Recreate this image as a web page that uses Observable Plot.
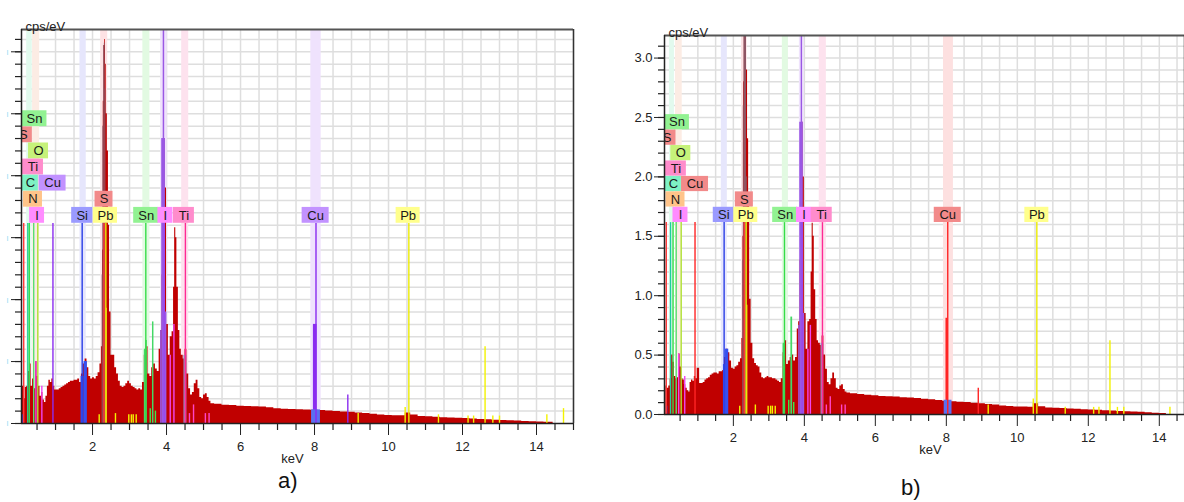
<!DOCTYPE html>
<html><head><meta charset="utf-8">
<script src="https://cdn.jsdelivr.net/npm/d3@7"></script>
<script src="https://cdn.jsdelivr.net/npm/@observablehq/plot@0.6"></script>
<style>
html,body{margin:0;padding:0;background:#fff}
body{width:1184px;height:502px;position:relative;overflow:hidden}
#pa{position:absolute;left:0;top:0}
#pb{position:absolute;left:600px;top:0}
.cap{position:absolute;font-family:"Liberation Sans",Arial,sans-serif;font-size:22px;line-height:1;color:#111}
</style></head><body>
<div id="pa"></div><div id="pb"></div>
<div class="cap" style="left:278px;top:470px">a)</div>
<div class="cap" style="left:901px;top:477px">b)</div>
<script>
// ---------- DATA ----------
// energy grid (keV) shared by both spectra
const keV = [0.10,0.14,0.18,0.22,0.26,0.30,0.34,0.38,0.42,0.46,0.50,0.54,0.58,0.62,0.66,0.70,0.74,0.78,0.82,0.86,0.90,0.94,0.98,
1.05,1.10,1.15,1.20,1.25,1.30,1.35,1.40,1.45,1.50,1.55,1.60,1.65,1.70,1.75,1.80,1.85,1.90,1.95,2.00,2.05,2.10,2.15,2.20,
2.24,2.27,2.29,2.31,2.33,2.35,2.37,2.40,2.43,2.46,
2.50,2.55,2.60,2.65,2.70,2.75,2.80,2.85,2.90,2.95,3.00,3.05,3.10,3.15,3.20,3.25,3.30,3.35,3.40,3.45,3.50,3.55,3.60,3.65,3.70,3.75,3.80,
3.84,3.88,3.92,3.96,4.00,
4.05,4.10,4.15,
4.19,4.22,4.25,4.28,4.32,4.36,4.40,
4.45,4.50,4.55,4.60,4.65,4.70,4.75,4.80,4.85,4.90,4.95,5.00,5.05,5.10,5.15,5.20,
5.3,5.5,5.7,5.9,6.1,6.3,6.5,6.7,6.9,7.1,7.3,7.5,7.7,7.9,8.1,8.3,8.5,8.7,8.9,9.1,9.3,9.5,9.7,9.9,10.1,10.3,10.45,10.6,10.8,11.0,11.2,11.4,11.6,11.8,12.0,12.2,12.4,12.6,12.8,13.0,13.2,13.4,13.6,13.8,14.0,14.2,14.45];

// spectrum a) cps/eV
const cpsA = [0.30,0.20,0.29,0.30,0.42,0.48,0.30,0.36,0.28,0.50,0.38,0.30,0.22,0.25,0.19,0.17,0.22,0.30,0.35,0.33,0.36,0.30,0.27,
0.27,0.28,0.29,0.30,0.31,0.32,0.33,0.34,0.34,0.35,0.35,0.36,0.33,0.40,0.48,0.52,0.45,0.38,0.36,0.37,0.36,0.38,0.41,0.48,
0.62,1.40,2.60,3.05,3.10,2.90,2.50,2.20,1.60,0.90,
0.55,0.55,0.45,0.40,0.34,0.30,0.29,0.30,0.32,0.34,0.32,0.30,0.29,0.28,0.27,0.28,0.27,0.33,0.55,0.62,0.40,0.38,0.45,0.48,0.44,0.42,0.60,
0.75,1.20,2.30,1.90,0.80,
0.55,0.70,0.74,
1.10,1.58,1.50,1.10,0.75,0.60,0.55,
0.52,0.60,0.40,0.28,0.23,0.25,0.32,0.35,0.28,0.21,0.20,0.23,0.24,0.21,0.18,0.16,
0.155,0.148,0.145,0.140,0.138,0.136,0.133,0.128,0.120,0.115,0.113,0.110,0.108,0.106,0.104,0.100,0.097,0.093,0.090,0.085,0.080,0.074,0.068,0.065,0.063,0.062,0.085,0.068,0.057,0.055,0.050,0.047,0.044,0.042,0.040,0.036,0.033,0.030,0.027,0.025,0.022,0.020,0.017,0.014,0.012,0.010,0.000];

// spectrum b) cps/eV
const cpsB = [0.24,0.22,0.24,0.30,0.50,0.44,0.32,0.30,0.31,0.51,0.40,0.30,0.29,0.25,0.22,0.20,0.19,0.27,0.29,0.28,0.32,0.30,0.39,
0.26,0.26,0.27,0.29,0.30,0.31,0.33,0.34,0.35,0.35,0.34,0.36,0.36,0.37,0.48,0.55,0.52,0.45,0.39,0.38,0.40,0.41,0.44,0.47,
0.64,1.50,2.80,3.30,3.30,3.30,2.90,2.32,1.80,0.97,
0.60,0.47,0.43,0.41,0.40,0.35,0.31,0.30,0.31,0.32,0.31,0.31,0.30,0.30,0.29,0.28,0.27,0.30,0.52,0.62,0.42,0.45,0.48,0.50,0.45,0.48,0.72,
0.78,1.30,2.46,2.00,0.85,
0.55,0.78,0.80,
1.20,1.61,1.50,1.05,0.80,0.62,0.60,
0.58,0.66,0.50,0.38,0.27,0.25,0.30,0.35,0.30,0.22,0.21,0.24,0.25,0.21,0.19,0.18,
0.175,0.168,0.163,0.158,0.152,0.150,0.148,0.142,0.138,0.134,0.128,0.124,0.118,0.112,0.108,0.104,0.100,0.095,0.090,0.085,0.080,0.072,0.068,0.064,0.063,0.062,0.090,0.065,0.055,0.052,0.050,0.047,0.044,0.041,0.038,0.035,0.032,0.030,0.026,0.024,0.021,0.018,0.015,0.010,0.008,0.000,0.000];

// element labels (stack level 0 = lowest row)
const labelText  = ["Sn","S","O","Ti","C","Cu","N","I","Si","S","Pb","Sn","I","Ti","Cu","Pb"];
const labelLevel = [6,5,4,3,2,2,1,0,0,1,0,0,0,0,0,0];
const labelKeVA  = [0.43,0.13,0.54,0.39,0.32,0.92,0.39,0.50,1.72,2.31,2.35,3.45,3.97,4.47,8.03,10.53];
const labelKeVB  = [0.41,0.13,0.52,0.38,0.31,0.92,0.37,0.51,1.73,2.31,2.35,3.46,3.99,4.49,8.04,10.55];

// element marker lines (from 0 up to the label row)
const lineElem = ["S","C","Sn","N","O","Cu","Si","S","Pb","Sn","I","Ti","Cu","Pb"];
const lineKeVA = [0.14,0.25,0.29,0.41,0.52,0.93,1.72,2.31,2.36,3.44,3.94,4.51,8.04,10.55];
const lineKeVB = [0.11,0.23,0.30,0.39,0.53,0.92,1.74,2.31,2.36,3.44,3.94,4.51,8.04,10.55];

// shaded element windows (keV)
const bandElem = ["C","O","Si","S","Sn","I","Ti","Cu"];
const bandLoA = [0.22,0.38,1.66,2.22,3.36,3.84,4.41,7.90];
const bandHiA = [0.37,0.57,1.83,2.41,3.55,4.02,4.60,8.18];
const bandLoB = [0.20,0.37,1.66,2.23,3.38,3.86,4.42,7.92];
const bandHiB = [0.34,0.56,1.83,2.39,3.55,4.00,4.62,8.20];

// fitted element contributions (keV window and height, cps/eV)
const ovElemA = ["Si","Si","S","S","S","S","S","S","Pb","Sn","Sn","Sn","I","I","I","I","Ix","Cu","Cub"];
const ovLoA   = [1.69,1.77,2.26,2.28,2.30,2.32,2.34,2.36,2.37,3.40,3.44,3.62,3.84,3.87,3.91,3.97,4.47,7.97,7.92];
const ovHiA   = [1.77,1.86,2.28,2.30,2.32,2.34,2.36,2.38,2.40,3.44,3.48,3.66,3.87,3.97,3.95,4.01,4.55,8.07,8.16];
const ovTopA  = [0.38,0.50,1.20,2.40,3.05,3.07,2.70,1.60,0.93,0.60,0.67,0.82,0.75,2.30,3.30,0.90,0.55,0.80,0.11];
const ovElemB = ["Si","Si","S","S","S","S","Pb","Sn","Sn","I","I","I","I","Ix","Cu","Cub"];
const ovLoB   = [1.72,1.78,2.26,2.28,2.30,2.37,2.37,3.40,3.62,3.84,3.87,3.91,3.97,4.47,7.99,7.94];
const ovHiB   = [1.78,1.87,2.28,2.30,2.37,2.39,2.41,3.46,3.67,3.87,3.97,3.95,4.01,4.55,8.06,8.16];
const ovTopB  = [0.42,0.55,1.30,2.60,3.30,2.00,0.92,0.60,0.82,0.75,2.46,3.30,0.85,0.60,0.81,0.12];

// minor lines (element, keV, height cps/eV)
const minElemA = ["Si","I","I","Pb","Pb","Pb","Pb","Pb","Pb","Sn","Sn","I","I","Ti","Ti","Ti","Ti","Cu","Pb","Pb","Pb","Pb","Pb","Pb","Pb","Pb","Pb","Pb"];
const minKeVA  = [0.12,0.47,0.63,2.18,2.62,2.98,3.05,3.10,3.18,3.56,3.70,4.10,4.20,4.62,4.73,5.05,5.15,8.90,9.18,10.45,11.35,12.15,12.30,12.61,12.82,13.00,14.28,14.73];
const minTopA  = [0.07,0.50,0.30,0.07,0.08,0.07,0.07,0.07,0.07,0.12,0.10,0.55,0.80,0.08,0.15,0.08,0.08,0.23,0.08,0.13,0.07,0.06,0.06,0.62,0.06,0.06,0.07,0.12];
const minElemB = ["Si","I","I","Pb","Pb","Pb","Pb","Pb","Pb","Sn","Sn","I","I","Ti","Ti","Ti","Ti","Cu","Pb","Pb","Pb","Pb","Pb","Pb","Pb","Pb","Pb"];
const minKeVB  = [0.12,0.46,0.63,2.18,2.62,2.98,3.05,3.10,3.18,3.56,3.70,4.10,4.17,4.62,4.73,5.05,5.15,8.90,9.18,10.45,11.35,12.15,12.30,12.61,12.82,13.00,14.30];
const minTopB  = [0.07,0.51,0.32,0.07,0.08,0.07,0.07,0.07,0.07,0.12,0.10,0.55,0.75,0.08,0.15,0.08,0.08,0.22,0.08,0.13,0.06,0.06,0.06,0.62,0.06,0.06,0.06];

const xTickLabels = [2,4,6,8,10,12,14];
const yTickLabels = [0,0.5,1,1.5,2,2.5,3];

// ---------- STYLE ----------
const FONT = "Liberation Sans, Arial, sans-serif";
const lineColor = {S:"#ff3838", C:"#1fcf9c", Sn:"#36dd48", N:"#58e070", O:"#aee232", I:"#9a48ee", Ti:"#ff2a94", Si:"#2b3fe6", Pb:"#ecec00"};
const minorColor = {S:"#ff3838", Sn:"#3ee84a", I:"#f044f0", Ti:"#ff44c8", Si:"#2b3fe6", Pb:"#f2f200"};
const ovColor = {Si:"#3450f2", S:"#8e5664", Pb:"#f0d820", Sn:"#44d866", I:"#9a58e4", Ix:"#9c82b8", Cub:"#5a70f0"};
const labelFill = {Sn:"#92f292", S:"#f28a8a", O:"#c6f27a", Ti:"#ff8ccc", C:"#7ef2c4", N:"#ffc48a", I:"#ff8cff", Si:"#9a9aff", Pb:"#ffff8c"};
const bandFill = {C:"#e2faee", O:"#fcece4", Si:"#e6e6fc", S:"#fde2e4", Sn:"#e2fae2", I:"#efe2fc", Ti:"#fde2ee"};
const boxW = {Sn:25, S:18, O:20, Ti:21, C:16, Cu:27, N:19, I:15, Si:21, Pb:24};
const rowY = lvl => 1.68 + 0.13 * lvl;

function makePanel(o) {
  const {width, height, mL, mR, mT, mB, xDom, yMax, cps, lblKeV, lnKeV, bLo, bHi,
         ovE, ovL, ovH, ovT, mnE, mnK, mnT, cu, showY, keVdx} = o;
  const kx = (width - mL - mR) / (xDom[1] - xDom[0]);
  const ky = (height - mT - mB) / yMax;
  const spec = keV.map((e, i) => ({e, v: cps[i]}));
  const lc = {...lineColor, Cu: cu.line};
  const oc = {...ovColor, Cu: cu.line};
  const lf = {...labelFill, Cu: cu.label};
  const bf = {...bandFill, Cu: cu.band};
  const bands = bandElem.map((el, i) => ({el, lo: bLo[i], hi: bHi[i]}));
  const ovs = ovE.map((el, i) => ({el, lo: ovL[i], hi: ovH[i], top: ovT[i]}));
  const mins = mnE.map((el, i) => ({el, e: mnK[i], top: mnT[i]}));
  const lines = lineElem.map((el, i) => ({el, e: lnKeV[i]}));
  const labels = labelText.map((t, i) => ({t, e: lblKeV[i], lvl: labelLevel[i]}));
  const gridY = d3.range(1, Math.floor(yMax * 10) + 1).map(i => i / 10);
  const gridX = d3.range(1, Math.floor(xDom[1] * 2) + 1).map(i => i / 2);
  const minorX = gridX.filter(v => v % 2 !== 0);
  const minorY = d3.range(0, Math.floor(yMax * 10) + 1).map(i => i / 10);
  const x0 = xDom[0], x1 = xDom[1];
  return Plot.plot({
    width, height, marginLeft: mL, marginRight: mR, marginTop: mT, marginBottom: mB,
    style: {fontFamily: FONT, fontSize: "13px", color: "#222", background: "transparent"},
    x: {domain: xDom, ticks: xTickLabels, tickSize: 12, tickPadding: 6, tickFormat: d => String(d), label: null},
    y: {domain: [0, yMax], ticks: yTickLabels, tickSize: 10, tickPadding: 2,
        tickFormat: showY ? d3.format(".1f") : () => "", label: null},
    marks: [
      Plot.ruleY(gridY, {stroke: "#dedede", strokeWidth: 1.5}),
      Plot.ruleX(gridX, {stroke: "#dedede", strokeWidth: 1.5}),
      Plot.rect(bands, {x1: "lo", x2: "hi", y1: () => 0, y2: () => yMax, fill: d => bf[d.el], clip: true}),
      Plot.areaY(spec, {x: "e", y: "v", curve: "step-after", fill: "#c00000", clip: true}),
      Plot.rect(ovs, {x1: "lo", x2: "hi", y1: () => 0, y2: "top", fill: d => oc[d.el], clip: true}),
      Plot.ruleX(mins, {x: "e", y1: () => 0, y2: "top", stroke: d => minorColor[d.el] || lc[d.el], strokeWidth: 1.4, clip: true}),
      Plot.ruleX(lines, {x: "e", y1: () => 0, y2: () => rowY(0) - 0.065, stroke: d => lc[d.el], strokeWidth: 1.4, clip: true}),
      Plot.rect(labels, {x1: d => d.e - boxW[d.t] / 2 / kx, x2: d => d.e + boxW[d.t] / 2 / kx,
        y1: d => rowY(d.lvl) - 0.064, y2: d => rowY(d.lvl) + 0.064, fill: d => lf[d.t], clip: true}),
      Plot.text(labels, {x: "e", y: d => rowY(d.lvl), text: "t", fontSize: 13, fill: "#1a1a1a", clip: true}),
      // frame: top and right
      Plot.ruleY([yMax], {stroke: "#555", strokeWidth: 2}),
      Plot.ruleX([x1], {stroke: "#333", strokeWidth: 1.5}),
      // axes lines
      Plot.ruleX([x0], {stroke: "#222", strokeWidth: 1.5}),
      Plot.ruleY([0], {stroke: "#222", strokeWidth: 1.5}),
      // minor ticks
      Plot.ruleY(minorY, {x1: () => x0 - 6 / kx, x2: () => x0, stroke: "#222", strokeWidth: 1.2}),
      Plot.ruleX(minorX, {y1: () => 0, y2: () => -7 / ky, stroke: "#222", strokeWidth: 1.2}),
      showY ? null : Plot.text(yTickLabels, {x: () => x0, y: d => d, text: () => "|", dx: -14, fontSize: 6, fill: "#5cc8ee"}),
      Plot.text(["cps/eV"], {frameAnchor: "top-left", textAnchor: "start", dx: 4, dy: -8, fontSize: 13, fill: "#222"}),
      Plot.text(["keV"], {frameAnchor: "bottom", dx: keVdx, dy: 39, fontSize: 13, fill: "#222"})
    ].filter(Boolean)
  });
}

document.getElementById("pa").append(makePanel({
  width: 590, height: 470, mL: 21, mR: 17, mT: 29, mB: 47, xDom: [0.08, 15.0], yMax: 3.18,
  cps: cpsA, lblKeV: labelKeVA, lnKeV: lineKeVA, bLo: bandLoA, bHi: bandHiA,
  ovE: ovElemA, ovL: ovLoA, ovH: ovHiA, ovT: ovTopA, mnE: minElemA, mnK: minKeVA, mnT: minTopA,
  cu: {line: "#8a2cf0", label: "#c292ff", band: "#efe2fd"}, showY: false, keVdx: -5
}));
document.getElementById("pb").append(makePanel({
  width: 584, height: 470, mL: 64, mR: 0, mT: 35, mB: 56, xDom: [0.06, 14.71], yMax: 3.19,
  cps: cpsB, lblKeV: labelKeVB, lnKeV: lineKeVB, bLo: bandLoB, bHi: bandHiB,
  ovE: ovElemB, ovL: ovLoB, ovH: ovHiB, ovT: ovTopB, mnE: minElemB, mnK: minKeVB, mnT: minTopB,
  cu: {line: "#ff2424", label: "#f28a8a", band: "#fde0e0"}, showY: true, keVdx: 6
}));
</script>
</body></html>
